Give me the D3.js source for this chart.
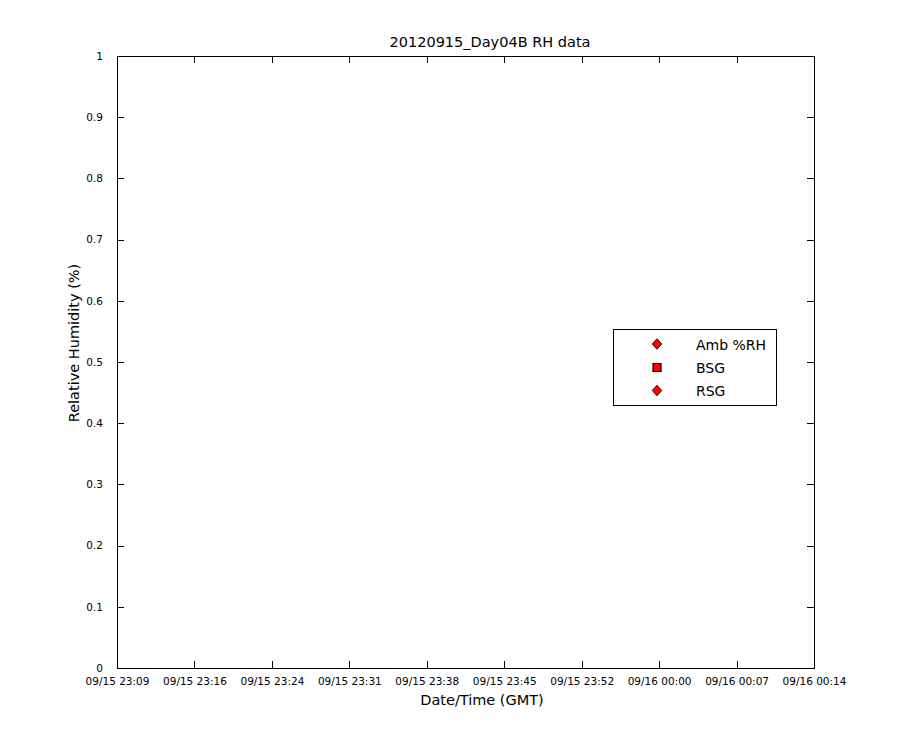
<!DOCTYPE html>
<html>
<head>
<meta charset="utf-8">
<script src="https://cdn.jsdelivr.net/npm/d3@7"></script>
<style>
html,body{margin:0;padding:0;background:#fff;}
svg{display:block;font-family:"DejaVu Sans",sans-serif;}
</style>
</head>
<body>
<svg id="chart" width="900" height="750"></svg>
<script>
const titleText = "20120915_Day04B RH data";
const xLabelText = "Date/Time (GMT)";
const yLabelText = "Relative Humidity (%)";
const xTickLabels = ["09/15 23:09","09/15 23:16","09/15 23:24","09/15 23:31","09/15 23:38","09/15 23:45","09/15 23:52","09/16 00:00","09/16 00:07","09/16 00:14"];
const yTicks = [0,0.1,0.2,0.3,0.4,0.5,0.6,0.7,0.8,0.9,1];
const seriesNames = ["Amb %RH","BSG","RSG"];
const seriesMarkers = ["diamond","square","diamond"];
const seriesColors = ["#ff0000","#ff0000","#ff0000"];
// No data points are visible in the reference
const ambTimes = [], ambValues = [];
const bsgTimes = [], bsgValues = [];
const rsgTimes = [], rsgValues = [];

const svg = d3.select("#chart");
const L = 117, R = 814, T = 56, B = 668;

const x = d3.scalePoint().domain(xTickLabels).range([L, R]);
const xi = d3.scaleLinear().domain([0, xTickLabels.length - 1]).range([L, R]);
const y = d3.scaleLinear().domain([0, 1]).range([B, T]);

svg.append("rect").attr("x", L).attr("y", T).attr("width", R - L).attr("height", B - T)
  .attr("fill", "#fff").attr("stroke", "none");

const tickLen = 7;
const fmtY = d => d3.format("")(+d.toFixed(1));

// bottom axis
const gx = svg.append("g").attr("transform", `translate(0,${B})`)
  .call(d3.axisBottom(x).tickSizeInner(-tickLen).tickSizeOuter(0).tickPadding(10));
gx.selectAll("text").attr("font-size", "10.5px").attr("fill", "#000").attr("font-family", "DejaVu Sans");
// top axis mirror
svg.append("g").attr("transform", `translate(0,${T})`)
  .call(d3.axisTop(x).tickSizeInner(-tickLen).tickSizeOuter(0).tickFormat(""));
// left axis
const gy = svg.append("g").attr("transform", `translate(${L},0)`)
  .call(d3.axisLeft(y).tickValues(yTicks).tickFormat(fmtY).tickSizeInner(-tickLen).tickSizeOuter(0).tickPadding(14));
gy.selectAll("text").attr("font-size", "10.5px").attr("fill", "#000").attr("font-family", "DejaVu Sans");
// right axis mirror
svg.append("g").attr("transform", `translate(${R},0)`)
  .call(d3.axisRight(y).tickValues(yTicks).tickSizeInner(-tickLen).tickSizeOuter(0).tickFormat(""));

svg.selectAll(".domain").remove();
svg.selectAll(".tick line").attr("stroke", "#000").attr("stroke-width", 1).attr("shape-rendering", "crispEdges");

// frame
svg.append("rect").attr("x", L).attr("y", T).attr("width", R - L).attr("height", B - T)
  .attr("fill", "none").attr("stroke", "#000").attr("stroke-width", 1).attr("shape-rendering", "crispEdges");

// MATLAB-like diamond symbol (nearly square, rotated)
const matDiamond = {
  draw(ctx, size) {
    const w = Math.sqrt(size) * 0.5, h = w * 1.12;
    ctx.moveTo(0, -h); ctx.lineTo(w, 0); ctx.lineTo(0, h); ctx.lineTo(-w, 0); ctx.closePath();
  }
};
const symType = m => m === "square" ? d3.symbolSquare : matDiamond;

function drawSeries(times, values, i) {
  svg.append("g").selectAll("path").data(values).join("path")
    .attr("transform", (d, k) => `translate(${xi(times[k])},${y(d)})`)
    .attr("d", d3.symbol(symType(seriesMarkers[i]), 90))
    .attr("fill", seriesColors[i]).attr("stroke", "#000").attr("stroke-width", 0.5);
}
drawSeries(ambTimes, ambValues, 0);
drawSeries(bsgTimes, bsgValues, 1);
drawSeries(rsgTimes, rsgValues, 2);

// title and labels
svg.append("text").attr("x", 490).attr("y", 47).attr("text-anchor", "middle")
  .attr("font-size", "14.5px").attr("fill", "#000").text(titleText);
svg.append("text").attr("x", 482).attr("y", 705).attr("text-anchor", "middle")
  .attr("font-size", "14.5px").attr("fill", "#000").text(xLabelText);
svg.append("text").attr("transform", "translate(79,343) rotate(-90)").attr("text-anchor", "middle")
  .attr("font-size", "14.5px").attr("fill", "#000").text(yLabelText);

// legend
const lg = svg.append("g");
lg.append("rect").attr("x", 613.5).attr("y", 329.5).attr("width", 163).attr("height", 76)
  .attr("fill", "#fff").attr("stroke", "#000").attr("stroke-width", 1);
const rowY = [344, 367.5, 390.5];
seriesNames.forEach((name, i) => {
  const isSq = seriesMarkers[i] === "square";
  lg.append("path").attr("transform", `translate(657,${rowY[i]})`)
    .attr("d", d3.symbol(symType(seriesMarkers[i]), isSq ? 64 : 92)())
    .attr("fill", seriesColors[i]).attr("stroke", "#000").attr("stroke-width", isSq ? 1.2 : 0.8);
  lg.append("text").attr("x", 696).attr("y", rowY[i] + 5.5).attr("font-size", "14px")
    .attr("fill", "#000").text(name);
});
</script>
</body>
</html>
